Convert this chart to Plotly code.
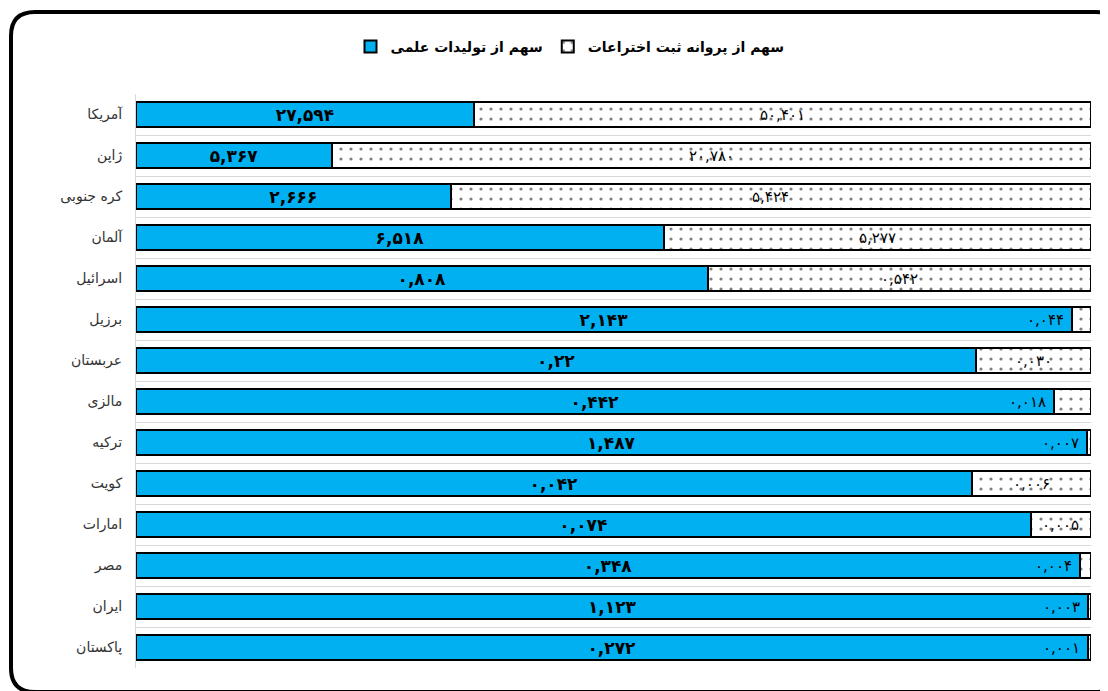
import plotly.graph_objects as go

countries = ["آمریکا", "ژاپن", "کره جنوبی", "آلمان", "اسرائیل", "برزیل", "عربستان",
             "مالزی", "ترکیه", "کویت", "امارات", "مصر", "ایران", "پاکستان"]
sci_share = ["27.594", "5.367", "2.666", "6.518", "0.808", "2.143", "0.22",
             "0.442", "1.487", "0.042", "0.074", "0.348", "1.123", "0.272"]
patent_share = ["50.401", "20.780", "5.424", "5.277", "0.542", "0.044", "0.030",
                "0.018", "0.007", "0.006", "0.005", "0.004", "0.003", "0.001"]
series_names = ["سهم از تولیدات علمی", "سهم از پروانه ثبت اختراعات"]

FA_DIGITS = str.maketrans("0123456789.", "۰۱۲۳۴۵۶۷۸۹,")


def fa(s):
    return s.translate(FA_DIGITS)


sci_v = [float(s) for s in sci_share]
pat_v = [float(s) for s in patent_share]
tot = [a + b for a, b in zip(sci_v, pat_v)]
sci_frac = [a / t for a, t in zip(sci_v, tot)]
pat_frac = [b / t for b, t in zip(pat_v, tot)]

FONT = "DejaVu Sans"
OFF = 8  # default body margin of the page
W, H = 1108 - OFF, 691 - OFF
ML, MT = 136 - OFF, 94 - OFF
PR, PB = 1091 - OFF, 668 - OFF
MR, MB = W - PR, H - PB
PW, PH = PR - ML, PB - MT

fig = go.Figure()
fig.add_trace(go.Bar(
    y=countries, x=sci_frac, orientation="h", name=series_names[0],
    marker=dict(color="#00B0F0", line=dict(color="black", width=2)),
    text=[fa(s) for s in sci_share], textposition="inside", insidetextanchor="middle",
    textfont=dict(family=FONT, size=17, color="black", weight="bold"),
    constraintext="none", hoverinfo="skip",
))
fig.add_trace(go.Bar(
    y=countries, x=pat_frac, orientation="h", name=series_names[1],
    marker=dict(color="white", line=dict(color="black", width=2),
                pattern=dict(shape=".", size=10, solidity=0.08, fgcolor="black", bgcolor="white")),
    hoverinfo="skip",
))

# labels of the second series
for c, sf, pf, s in zip(countries, sci_frac, pat_frac, patent_share):
    if pf >= 0.05:
        fig.add_annotation(x=sf + pf / 2, y=c, xref="x", yref="y", text=fa(s), showarrow=False,
                           xanchor="center", font=dict(family=FONT, size=15, color="black"))
    else:
        fig.add_annotation(x=sf, y=c, xref="x", yref="y", text=fa(s), showarrow=False,
                           xanchor="right", xshift=-6, font=dict(family=FONT, size=15, color="black"))


def px_x(p):
    return (p - OFF - ML) / PW


def px_y(p):
    return (PB - (p - OFF)) / PH


# rounded outer frame (reference pixel coordinates)
x0, x1, y0, y1, r = 11, 1120, 12, 692, 24
path = (f"M {px_x(x0)},{px_y(y0 + r)} "
        f"Q {px_x(x0)},{px_y(y0)} {px_x(x0 + r)},{px_y(y0)} "
        f"L {px_x(x1 - r)},{px_y(y0)} "
        f"Q {px_x(x1)},{px_y(y0)} {px_x(x1)},{px_y(y0 + r)} "
        f"L {px_x(x1)},{px_y(y1 - r)} "
        f"Q {px_x(x1)},{px_y(y1)} {px_x(x1 - r)},{px_y(y1)} "
        f"L {px_x(x0 + r)},{px_y(y1)} "
        f"Q {px_x(x0)},{px_y(y1)} {px_x(x0)},{px_y(y1 - r)} Z")
fig.add_shape(type="path", path=path, xref="paper", yref="paper",
              line=dict(color="black", width=4), fillcolor="rgba(0,0,0,0)", layer="above")

fig.update_layout(
    width=W, height=H, barmode="stack", bargap=0.41,
    margin=dict(l=ML, r=MR, t=MT, b=MB, autoexpand=False),
    paper_bgcolor="white", plot_bgcolor="white",
    font=dict(family=FONT, color="black"),
    showlegend=True,
    legend=dict(orientation="h", x=px_x(570), xanchor="center",
                y=px_y(47), yanchor="middle",
                font=dict(family=FONT, size=14, color="black", weight="bold"),
                itemwidth=30, traceorder="normal"),
    xaxis=dict(range=[0, 1], showgrid=False, zeroline=False, showticklabels=False,
               showline=False, fixedrange=True),
    yaxis=dict(autorange="reversed", tickson="boundaries", showgrid=True,
               gridcolor="#d9d9d9", gridwidth=1, showline=True, linecolor="#d9d9d9",
               linewidth=1, ticks="", ticklabelstandoff=10,
               tickfont=dict(family=FONT, size=14, color="#333333")),
)

fig.write_html("out.html")
